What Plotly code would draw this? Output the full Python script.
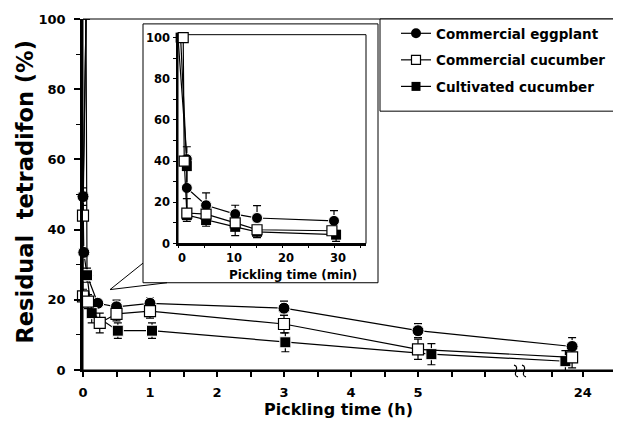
import plotly.graph_objects as go

# ---------------- data ----------------
# Main panel: time positions on the broken hour axis (7.3 / 7.2 stand for 24 h)
egg_t = [0.045, 0.0, 0.012, 0.06, 0.22, 0.5, 1.0, 3.0, 5.0, 7.3]
egg_v = [100, 49.4, 33.5, 27.0, 19.0, 18.0, 19.0, 17.6, 11.2, 6.7]
egg_e = [None, 2.5, None, None, None, 1.9, 1.5, 2.0, 2.0, 2.5]

com_t = [0.045, 0.0, 0.0, 0.075, 0.25, 0.5, 1.0, 3.0, 5.0, 7.3]
com_v = [100, 44.0, 21.0, 19.5, 13.4, 16.0, 16.8, 13.1, 5.9, 3.6]
com_e = [None, None, 2.0, 2.0, 2.8, 2.0, 2.0, 2.5, 2.9, 3.0]

cul_t = [0.045, 0.06, 0.13, 0.52, 1.03, 3.02, 5.2, 7.2]
cul_v = [100, 27.0, 16.2, 11.2, 11.2, 7.9, 4.5, 2.5]
cul_e = [None, 2.0, 2.8, 2.2, 2.2, 2.7, 3.0, 3.0]

# hour-axis ticks (unlabelled ones are the half-hour / break ticks)
x_tickvals = [0, 0.5, 1, 1.5, 2, 2.5, 3, 3.5, 4, 4.5, 5, 5.5, 6, 7, 7.46]
x_ticktext = ["0", "", "1", "", "2", "", "3", "", "4", "", "5", "", "", "", "24"]
y_tickvals = [0, 20, 40, 60, 80, 100]

# Inset panel (minutes)
in_egg_t = [0, 1.7, 1.7, 5.4, 11.0, 15.2, 30.0]
in_egg_v = [100, 41.0, 27.0, 18.6, 14.3, 12.4, 11.0]
in_egg_ep = [None, 6.0, None, 6.0, 4.3, 6.0, 5.0]

in_com_t = [1.0, 1.2, 1.7, 5.4, 11.0, 15.2, 29.6]
in_com_v = [100, 40.0, 14.8, 14.3, 10.0, 6.7, 6.2]
in_com_ep = [None, None, 7.0, None, None, None, None]
in_com_em = [None, None, 3.0, 3.0, None, None, None]

in_cul_t = [0.5, 1.7, 1.7, 5.4, 11.0, 15.2, 30.4]
in_cul_v = [100, 37.6, 13.8, 11.4, 8.1, 5.7, 4.3]
in_cul_em = [None, None, 3.0, 3.0, 4.3, 2.8, 3.3]

in_x_tickvals = [0, 10, 20, 30]
in_y_tickvals = [0, 20, 40, 60, 80, 100]

series_names = ["Commercial eggplant", "Commercial cucumber", "Cultivated cucumber"]

# ---------------- styling ----------------
FONT = "DejaVu Sans"
BLACK = "black"
OFF = 8                      # page body margin
W, H = 613, 413
L, T = 83 - OFF, 12 - OFF     # plot area left/top in figure px
PR, PB = 616 - OFF, 370 - OFF
R, B = W - PR, H - PB
PW, PH = PR - L, PB - T


def px2p(x, y):
    """page pixel -> paper coords"""
    return (x - OFF - L) / PW, (PB - (y - OFF)) / PH


def sizes(n, s, hide_first=True):
    return [0 if (hide_first and i == 0) else s for i in range(n)]


fig = go.Figure()

eb = dict(type="data", color=BLACK, thickness=1.2, width=4)

# main traces
fig.add_trace(go.Scatter(
    x=egg_t, y=egg_v, mode="lines+markers", showlegend=False, cliponaxis=False,
    line=dict(color=BLACK, width=1.2),
    marker=dict(symbol="circle", size=sizes(len(egg_t), 12), color=BLACK, opacity=1),
    error_y=dict(array=egg_e, **eb)))
fig.add_trace(go.Scatter(
    x=cul_t, y=cul_v, mode="lines+markers", showlegend=False, cliponaxis=False,
    line=dict(color=BLACK, width=1.2),
    marker=dict(symbol="square", size=sizes(len(cul_t), 11), color=BLACK, opacity=1),
    error_y=dict(array=cul_e, **eb)))
fig.add_trace(go.Scatter(
    x=com_t, y=com_v, mode="lines+markers", showlegend=False, cliponaxis=False,
    line=dict(color=BLACK, width=1.2),
    marker=dict(symbol="square", size=sizes(len(com_t), 11), color="white", opacity=1,
                line=dict(color=BLACK, width=1.2)),
    error_y=dict(array=com_e, **eb)))

# inset traces
fig.add_trace(go.Scatter(
    x=in_egg_t, y=in_egg_v, xaxis="x2", yaxis="y2", mode="lines+markers",
    showlegend=False, cliponaxis=False,
    line=dict(color=BLACK, width=1.2),
    marker=dict(symbol="circle", size=sizes(len(in_egg_t), 11), color=BLACK, opacity=1),
    error_y=dict(array=in_egg_ep, arrayminus=[None] * len(in_egg_ep),
                 symmetric=False, **eb)))
fig.add_trace(go.Scatter(
    x=in_cul_t, y=in_cul_v, xaxis="x2", yaxis="y2", mode="lines+markers",
    showlegend=False, cliponaxis=False,
    line=dict(color=BLACK, width=1.2),
    marker=dict(symbol="square", size=10, color=BLACK),
    error_y=dict(array=[None] * len(in_cul_em), arrayminus=in_cul_em,
                 symmetric=False, **eb)))
fig.add_trace(go.Scatter(
    x=in_com_t, y=in_com_v, xaxis="x2", yaxis="y2", mode="lines+markers",
    showlegend=False, cliponaxis=False,
    line=dict(color=BLACK, width=1.2),
    marker=dict(symbol="square", size=10, color="white",
                line=dict(color=BLACK, width=1.2)),
    error_y=dict(array=in_com_ep, arrayminus=in_com_em,
                 symmetric=False, **eb)))

# legend-only traces
leg_markers = [
    dict(symbol="circle", size=10, color=BLACK),
    dict(symbol="square", size=9, color="white", line=dict(color=BLACK, width=1.2)),
    dict(symbol="square", size=9, color=BLACK),
]
for i, (nm, mk) in enumerate(zip(series_names, leg_markers)):
    fig.add_trace(go.Scatter(
        x=[None], y=[None], mode="lines+markers", name=nm, legendgroup=f"g{i}",
        line=dict(color=BLACK, width=1.2), marker=mk))

# ---------------- shapes ----------------
shapes = []
shapes.append(dict(type="rect", xref="paper", yref="paper", x0=0, x1=1, y0=0, y1=1,
                   line=dict(color=BLACK, width=1), layer="below"))
bx0, by0 = px2p(143, 281)
bx1, by1 = px2p(378, 17)
shapes.append(dict(type="rect", xref="paper", yref="paper", x0=bx0, x1=bx1, y0=by0, y1=by1,
                   line=dict(color=BLACK, width=1), fillcolor="white", layer="below"))
ix0, iy0 = px2p(178, 241)
ix1, iy1 = px2p(366, 28)
shapes.append(dict(type="rect", xref="paper", yref="paper", x0=ix0, x1=ix1, y0=iy0, y1=iy1,
                   line=dict(color=BLACK, width=1), layer="below"))
lx0, ly0 = px2p(380, 106)
lx1, ly1 = px2p(616, 12)
shapes.append(dict(type="rect", xref="paper", yref="paper", x0=lx0, x1=lx1, y0=ly0, y1=ly1,
                   line=dict(color=BLACK, width=1), fillcolor="white", layer="below"))
p1 = px2p(143, 261)
p2 = px2p(110, 288)
p3 = px2p(167, 281)
shapes.append(dict(type="path", xref="paper", yref="paper",
                   path=f"M {p1[0]},{p1[1]} L {p2[0]},{p2[1]} L {p3[0]},{p3[1]}",
                   line=dict(color=BLACK, width=1)))
for cx in (516, 524):
    a = px2p(cx - 2, 365)
    c1 = px2p(cx + 5, 367)
    c2 = px2p(cx - 5, 375)
    d = px2p(cx + 2, 377)
    shapes.append(dict(type="path", xref="paper", yref="paper",
                       path=f"M {a[0]},{a[1]} C {c1[0]},{c1[1]} {c2[0]},{c2[1]} {d[0]},{d[1]}",
                       line=dict(color=BLACK, width=1.2)))

# ---------------- annotations ----------------
ann = []
xt = px2p(338, 410)
ann.append(dict(text="Pickling time (h)", x=xt[0], y=xt[1], xref="paper", yref="paper",
                xanchor="center", yanchor="middle", showarrow=False,
                font=dict(family=FONT, size=16, color=BLACK, weight="bold")))
yt = px2p(25, 189)
ann.append(dict(text="Residual\u00a0 tetradifon (%)", x=yt[0], y=yt[1], xref="paper", yref="paper",
                xanchor="center", yanchor="middle", showarrow=False, textangle=-90,
                font=dict(family=FONT, size=22.5, color=BLACK, weight="bold")))
it = px2p(293, 273)
ann.append(dict(text="Pickling time (min)", x=it[0], y=it[1], xref="paper", yref="paper",
                xanchor="center", yanchor="middle", showarrow=False,
                font=dict(family=FONT, size=12, color=BLACK, weight="bold")))

tickfont_main = dict(family=FONT, size=13, color=BLACK, weight="bold")
tickfont_in = dict(family=FONT, size=11.5, color=BLACK, weight="bold")

fig.update_layout(
    width=W, height=H, margin=dict(l=L, r=R, t=T, b=B),
    paper_bgcolor="white", plot_bgcolor="rgba(0,0,0,0)",
    shapes=shapes, annotations=ann,
    legend=dict(x=px2p(396, 0)[0], y=px2p(0, 11)[1], xanchor="left", yanchor="top",
                bgcolor="rgba(0,0,0,0)", borderwidth=0, tracegroupgap=6,
                font=dict(family=FONT, size=13.5, color=BLACK, weight="bold")),
    xaxis=dict(domain=[0, 1], range=[0, PW / 67.0], showgrid=False, zeroline=False,
               tickmode="array", tickvals=x_tickvals, ticktext=x_ticktext,
               ticks="outside", ticklen=5, tickwidth=1.5, tickcolor=BLACK,
               showline=True, linecolor=BLACK, linewidth=2, ticklabelstandoff=4,
               tickfont=tickfont_main),
    yaxis=dict(domain=[0, 1], range=[0, 100], showgrid=False, zeroline=False,
               tickmode="array", tickvals=y_tickvals,
               ticks="outside", ticklen=6, tickwidth=1.5, tickcolor=BLACK,
               showline=True, linecolor=BLACK, linewidth=2.5, ticklabelstandoff=6,
               tickfont=tickfont_main,
               minor=dict(dtick=10, ticks="outside", ticklen=4, tickwidth=1.2,
                          tickcolor=BLACK)),
    xaxis2=dict(domain=[ix0, ix1], anchor="y2", range=[0, 188 / 5.2], showgrid=False,
                zeroline=False, tickmode="array", tickvals=in_x_tickvals,
                ticks="outside", ticklen=3, tickwidth=1.2, tickcolor=BLACK,
                showline=True, linecolor=BLACK, linewidth=1.5, ticklabelstandoff=0,
                ticklabelshift=4,
                tickfont=tickfont_in,
                minor=dict(tick0=0, dtick=5, ticks="outside", ticklen=3,
                           tickwidth=1, tickcolor=BLACK)),
    yaxis2=dict(domain=[iy0, iy1], anchor="x2", range=[0, 213 / 2.1], showgrid=False,
                zeroline=False, tickmode="array", tickvals=in_y_tickvals,
                ticks="outside", ticklen=3, tickwidth=1.2, tickcolor=BLACK,
                showline=True, linecolor=BLACK, linewidth=1.5, ticklabelstandoff=1,
                tickfont=tickfont_in,
                minor=dict(dtick=10, ticks="outside", ticklen=3, tickwidth=1,
                           tickcolor=BLACK)),
)

fig.write_html("out.html")
